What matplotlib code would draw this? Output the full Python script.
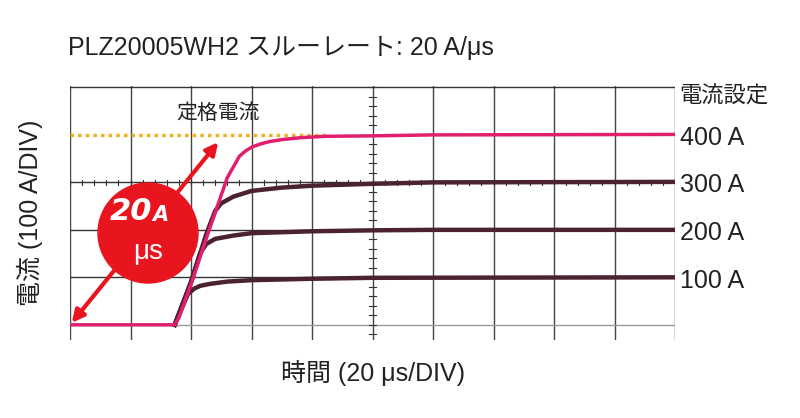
import matplotlib
matplotlib.use("Agg")
import matplotlib.pyplot as plt
from matplotlib.patches import Circle, FancyArrowPatch
import numpy as np

plt.rcParams['font.family'] = ['Liberation Sans', 'Noto Sans CJK JP']

# time in divisions (20 us/DIV), current in A
t400 = [0, 1.73, 1.8, 2.0, 2.3, 2.6, 2.8, 2.9, 3.0, 3.15, 3.3, 3.5, 3.8, 4.2, 5.0, 6.0, 10]
i400 = [0, 0, 15, 85, 200, 310, 355, 366, 374, 381, 386, 390, 394, 397, 398, 400, 401]
t300 = [1.73, 2.0, 2.25, 2.4, 2.5, 2.7, 3.0, 3.5, 4.0, 5.0, 6.0, 10]
i300 = [0, 90, 190, 240, 256, 270, 282, 289, 293, 297, 300, 301]
t200 = [1.73, 2.0, 2.15, 2.25, 2.4, 2.7, 3.0, 4.0, 5.0, 6.0, 10]
i200 = [0, 90, 150, 170, 181, 188, 193, 197, 199, 200, 200]
t100 = [1.73, 1.95, 2.05, 2.15, 2.3, 2.6, 3.0, 4.0, 5.0, 10]
i100 = [0, 65, 76, 82, 86, 91, 94, 97, 99, 100]
levels = [400, 300, 200, 100]
level_labels = ["400 A", "300 A", "200 A", "100 A"]

fig = plt.figure(figsize=(8, 4.18), dpi=100)
ax = fig.add_axes([70/800, 1-340/418, 605/800, 254/418])
ax.set_xlim(0, 10)
ax.set_ylim(-32, 503)
ax.axis('off')

for x in range(11):
    ax.plot([x, x], [-32, 503], color='#444444', lw=1, zorder=1)
for y in [500, 300, 200, 100]:
    ax.plot([0, 10], [y, y], color='#333333', lw=1, zorder=1)
ax.plot([0, 10], [0, 0], color='#999999', lw=1, zorder=1)
for yy in np.arange(-20, 501, 20):
    ax.plot([4.95, 5.05], [yy, yy], color='#333333', lw=0.8, zorder=1)
for xx in np.arange(0, 10.01, 0.2):
    ax.plot([xx, xx], [294, 306], color='#333333', lw=0.8, zorder=1)

ax.plot([0, 4.3], [400, 400], color='#f0b020', lw=2.5, ls=(0, (1, 1.2)), zorder=2)

dark = '#4a2230'
for tt, ii in [(t300, i300), (t200, i200), (t100, i100)]:
    ax.plot(tt, ii, color=dark, lw=3.2, zorder=3)
ax.plot(t400, i400, color='#e0206e', lw=2.5, zorder=4)

ax.text(2.45, 445, "定格電流", fontsize=15, ha='center', va='center', color='#222222')

arr = FancyArrowPatch((70, 418-325), (220, 418-140), transform=None,
                      arrowstyle='<|-|>', mutation_scale=18, color='#e8141e', lw=3, zorder=5)
fig.patches.append(arr)
circ = Circle((148, 418-233), 50, transform=None, color='#e8141e', zorder=6)
fig.patches.append(circ)
fig.text(152/800, 1-212/418, "20", fontsize=22, fontweight='bold', style='italic',
         color='white', ha='right', va='center', zorder=7, family='DejaVu Sans')
fig.text(152/800, 1-215/418, "A", fontsize=15, fontweight='bold', style='italic',
         color='white', ha='left', va='center', zorder=7, family='DejaVu Sans')
fig.lines.append(plt.Line2D([108/800, 188/800], [1-232/418, 1-232/418], color='white', lw=1.5, zorder=7))
fig.text(148/800, 1-252/418, "μs", fontsize=20, color='white', ha='center', va='center', zorder=7)

fig.text(68/800, 1-48/418, "PLZ20005WH2 スルーレート: 20 A/μs", fontsize=18, ha='left', va='center', color='#222222')
fig.text(679/800, 1-97/418, "電流設定", fontsize=16, ha='left', va='center', color='#222222')
for lv, lb in zip(levels, level_labels):
    yp = 325 - lv * 0.475
    fig.text(680/800, 1-(yp+3)/418, lb, fontsize=18, ha='left', va='center', color='#222222')
fig.text(373/800, 1-373/418, "時間 (20 μs/DIV)", fontsize=18, ha='center', va='center', color='#222222')
fig.text(30/800, 1-213/418, "電流 (100 A/DIV)", fontsize=18, ha='center', va='center', rotation=90, color='#222222')

fig.savefig("out.png", dpi=100)
